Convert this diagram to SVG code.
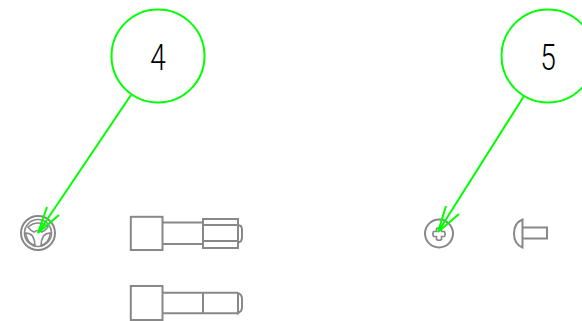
<svg xmlns="http://www.w3.org/2000/svg" width="582" height="321" viewBox="0 0 582 321">
<style>
.g{fill:none;stroke:#888;stroke-width:2}
.t{fill:none;stroke:#888;stroke-width:1.600}
.c{fill:#fff;stroke:#00ff00;stroke-width:2}
.l{fill:none;stroke:#00ff00;stroke-width:2}
.n{font-family:Roboto,"DejaVu Sans",sans-serif;font-weight:300;font-size:37px;fill:#000;text-anchor:middle}
</style>
<rect width="582" height="321" fill="#fff"/>
<g id="part-washer-front">
<circle class="g" cx="38" cy="233" r="17"/>
<circle class="t" cx="38" cy="233" r="13.500"/>
<path class="t" d="M28 227Q38 219 48 227Q45 231 42 232Q38 229 34 232Q31 231 28 227Z"/>
<path class="t" d="M25.500 233Q30 233 32.500 236Q35 240 35 245.500Q27 243 25.500 233Z"/>
<path class="t" d="M50.500 233Q46 233 43.500 236Q41 240 41 245.500Q49 243 50.500 233Z"/>
</g>
<g id="part-screw-nut">
<rect class="g" x="130.800" y="216.800" width="31.700" height="33.200"/>
<path class="g" d="M162.500 222.500H203M162.500 244H203"/>
<rect class="g" x="203" y="219" width="35" height="29"/>
<path class="g" d="M203 225H238M203 241H238"/>
<path class="g" d="M238 225L241 226L242 229V238L241 241L238 243"/>
</g>
<g id="part-screw">
<rect class="g" x="130.800" y="286" width="31.700" height="34"/>
<path class="g" d="M162.500 292.700H238M162.500 313.300H238M203 292.700V313.300"/>
<path class="g" d="M238 292.700L241 295L242 298V308L241 311L238 313.300V292.700"/>
</g>
<g id="part-pan-front">
<circle class="g" cx="439" cy="233.500" r="14"/>
<path class="t" d="M436.500 228.500Q439 227 441.500 228.500V231.500H444.500Q446 234 444.500 236.500H441.500V239.500Q439 241 436.500 239.500V236.500H433.500Q432 234 433.500 231.500H436.500Z"/>
</g>
<g id="part-pan-side">
<path class="g" d="M522.500 219.500Q514 223 514 233.500Q514 244 522.500 247.500Z"/>
<path class="g" d="M522.500 227.500H547V238.500H522.500"/>
</g>
<g id="connectors">
<path class="l" d="M131 95L38 233L47 207M38 233L59 215"/>
<path class="l" d="M524 96L438 232L446 206M438 232L459 214"/>
</g>
<g id="balloon-4">
<circle class="c" cx="158" cy="56" r="46.500"/>
<text class="n" x="158" y="70" transform="translate(158 0) scale(.76 1) translate(-158 0)">4</text>
</g>
<g id="balloon-5">
<circle class="c" cx="548" cy="56" r="46.500"/>
<text class="n" x="548" y="70" transform="translate(548 0) scale(.76 1) translate(-548 0)">5</text>
</g>
</svg>
